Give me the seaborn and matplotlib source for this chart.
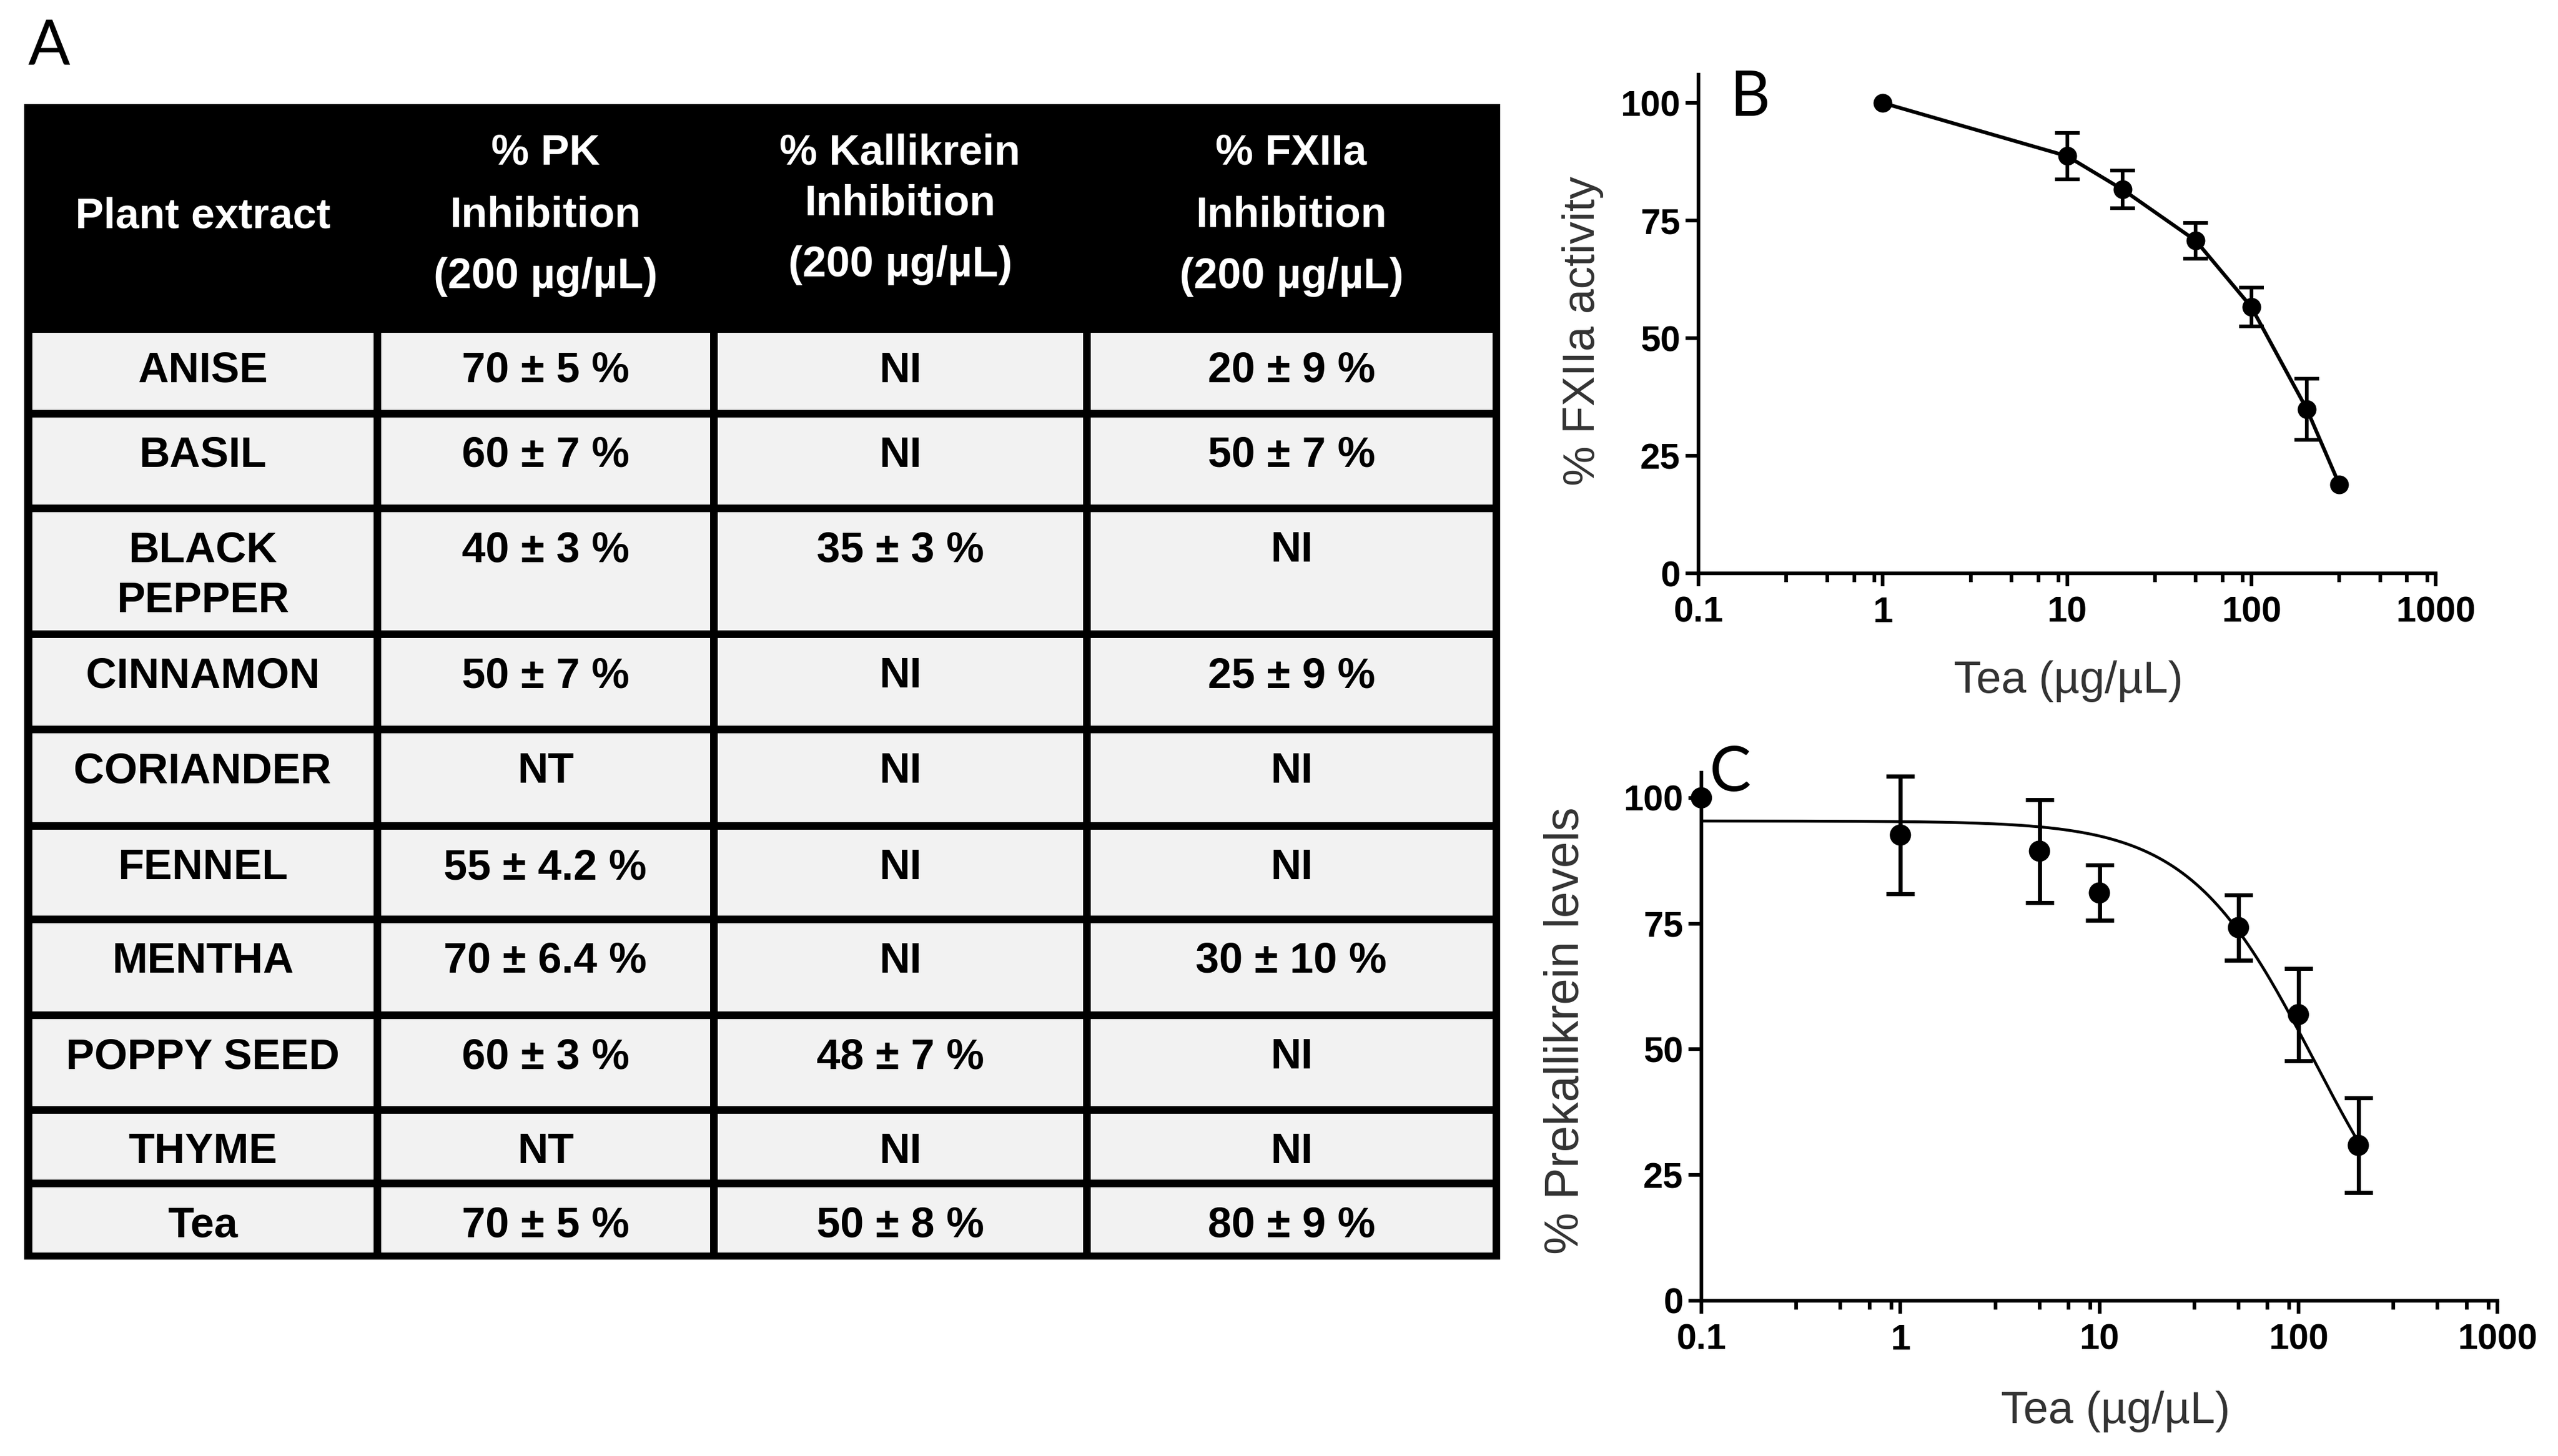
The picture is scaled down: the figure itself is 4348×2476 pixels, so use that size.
import numpy as np
import matplotlib
matplotlib.use('Agg')
import matplotlib.pyplot as plt
import matplotlib.patches as mpatches
from matplotlib import ticker
import seaborn as sns

# ---- table A data ----
plants = ['ANISE', 'BASIL', 'BLACK\nPEPPER', 'CINNAMON', 'CORIANDER',
          'FENNEL', 'MENTHA', 'POPPY SEED', 'THYME', 'Tea']
pkInhib = ['70 ± 5 %', '60 ± 7 %', '40 ± 3 %', '50 ± 7 %', 'NT',
           '55 ± 4.2 %', '70 ± 6.4 %', '60 ± 3 %', 'NT', '70 ± 5 %']
kalInhib = ['NI', 'NI', '35 ± 3 %', 'NI', 'NI',
            'NI', 'NI', '48 ± 7 %', 'NI', '50 ± 8 %']
fxiiaInhib = ['20 ± 9 %', '50 ± 7 %', 'NI', '25 ± 9 %', 'NI',
              'NI', '30 ± 10 %', 'NI', 'NI', '80 ± 9 %']
headers = ['Plant extract',
           '% PK\nInhibition\n(200 µg/µL)',
           '% Kallikrein\nInhibition\n(200 µg/µL)',
           '% FXIIa\nInhibition\n(200 µg/µL)']

# ---- panel B data ----
teaB = [1, 10, 20, 50, 100, 200, 300]
fxiiaAct = [100, 88.7, 81.6, 70.7, 56.6, 34.9, 18.9]
fxiiaErr = [0, 4.9, 4.0, 3.8, 4.1, 6.5, 0]

# ---- panel C data ----
teaC = [0.1, 1, 5, 10, 50, 100, 200]
pkLevel = [100, 92.6, 89.4, 81.1, 74.2, 56.9, 30.9]
pkErr = [0, 11.7, 10.2, 5.5, 6.5, 9.2, 9.4]

# four parameter logistic fit drawn in panel C (parameters)
fitTop, fitBottom, fitLogEC50, fitHill = 95.4, 0.0, 2.08, 1.38

sns.set_theme(style='ticks')
plt.rcParams['font.family'] = ['Liberation Sans', 'DejaVu Sans']

W, H = 4348, 2476
fig = plt.figure(figsize=(W/100, H/100), dpi=100)
fig.patch.set_facecolor('white')

# ---------------- table ----------------
tab = fig.add_axes([0, 0, 1, 1])
tab.set_xlim(0, W)
tab.set_ylim(H, 0)
tab.axis('off')

colEdges = [48, 641, 1213, 1847, 2543]
rowEdges = [559, 703, 864, 1078, 1240, 1404, 1563, 1726, 1887, 2012, 2136]
tableLeft, tableRight, tableTop, tableBottom = 41, 2550, 177, 2142
lineW = 13
headBase = [[387], [280, 386, 490], [280, 366, 470], [280, 386, 490]]

tab.add_patch(mpatches.Rectangle((tableLeft, tableTop), tableRight-tableLeft,
              tableBottom-tableTop, facecolor='black', edgecolor='none'))
columns = [plants, pkInhib, kalInhib, fxiiaInhib]
for i in range(4):
	cx = (colEdges[i] + colEdges[i+1]) / 2.0
	for k, line in enumerate(headers[i].split('\n')):
		tab.text(cx, headBase[i][k], line, color='white', fontsize=52, fontweight='bold',
		         ha='center', va='baseline')
	for j in range(len(plants)):
		x0 = colEdges[i] + lineW/2.0
		y0 = rowEdges[j] + lineW/2.0
		tab.add_patch(mpatches.Rectangle((x0, y0), colEdges[i+1]-colEdges[i]-lineW,
		              rowEdges[j+1]-rowEdges[j]-lineW, facecolor='#f2f2f2', edgecolor='none'))
		for k, line in enumerate(columns[i][j].split('\n')):
			tab.text(cx, rowEdges[j] + 91 + 86*k, line, color='black', fontsize=52,
			         fontweight='bold', ha='center', va='baseline')

# ---------------- plots ----------------
def styleAxis(ax, ytop):
	ax.set_xscale('log')
	ax.set_xlim(0.1, 1000)
	ax.set_ylim(0, ytop)
	ax.set_xticks([0.1, 1, 10, 100, 1000])
	ax.set_xticklabels(['0.1', '1', '10', '100', '1000'])
	ax.xaxis.set_minor_locator(ticker.LogLocator(base=10, subs=(3, 5, 7, 9)))
	ax.xaxis.set_minor_formatter(ticker.NullFormatter())
	ax.set_yticks([0, 25, 50, 75, 100])
	ax.set_yticklabels(['0', '25', '50', '75', '100'])
	sns.despine(ax=ax)
	for s in ['left', 'bottom']:
		ax.spines[s].set_linewidth(4.5)
		ax.spines[s].set_color('black')
	ax.tick_params(which='major', length=16, width=4.5, color='black', labelsize=44,
	               labelcolor='black')
	ax.tick_params(axis='x', which='major', pad=12)
	ax.tick_params(axis='y', which='major', pad=6)
	ax.tick_params(which='minor', length=11, width=4.5, color='black')
	for lab in ax.get_xticklabels() + ax.get_yticklabels():
		lab.set_fontweight('bold')
	ax.set_facecolor('white')

axB = fig.add_axes([2887/W, 1-975/H, (4140-2887)/W, 848/H])
sns.lineplot(x=teaB, y=fxiiaAct, ax=axB, color='black', linewidth=4.5, marker='o',
             markersize=23, markeredgewidth=0, clip_on=False, zorder=3)
bMask = np.array(fxiiaErr) > 0
axB.errorbar(np.array(teaB)[bMask], np.array(fxiiaAct)[bMask], yerr=np.array(fxiiaErr)[bMask],
             fmt='none', ecolor='black', elinewidth=4.5, capsize=15, capthick=4.5, zorder=2)
styleAxis(axB, 106)
axB.set_xlabel('Tea (µg/µL)', fontsize=55, color='#333333')
axB.set_ylabel('% FXIIa activity', fontsize=55, color='#333333')
axB.xaxis.set_label_coords(0.502, -0.239)
axB.xaxis.label.set_va('baseline')
axB.yaxis.set_label_coords(-0.157, 0.486)
axB.yaxis.label.set_va('center')

axC = fig.add_axes([2892/W, 1-2212/H, (4245-2892)/W, 898/H])
curveX = np.logspace(-1, np.log10(teaC[-1]), 300)
curveY = fitBottom + (fitTop-fitBottom) / (1 + 10**((np.log10(curveX) - fitLogEC50)*fitHill))
sns.lineplot(x=curveX, y=curveY, ax=axC, color='black', linewidth=3.5, zorder=2)
sns.scatterplot(x=teaC, y=pkLevel, ax=axC, s=26**2, color='black', edgecolor='none',
                clip_on=False, zorder=4)
cMask = np.array(pkErr) > 0
axC.errorbar(np.array(teaC)[cMask], np.array(pkLevel)[cMask], yerr=np.array(pkErr)[cMask],
             fmt='none', ecolor='black', elinewidth=5, capsize=17, capthick=5, zorder=3)
styleAxis(axC, 105)
axC.set_xlabel('Tea (µg/µL)', fontsize=55, color='#333333')
axC.set_ylabel('% Prekallikrein levels', fontsize=58, color='#333333')
axC.xaxis.set_label_coords(0.520, -0.2316)
axC.xaxis.label.set_va('baseline')
axC.yaxis.set_label_coords(-0.170, 0.511)
axC.yaxis.label.set_va('center')

# panel letters
for letter, px, py in [('A', 48, 110), ('B', 2940, 197), ('C', 2906, 1345)]:
	fig.text(px/W, 1-py/H, letter, fontsize=76, family=['Lato', 'DejaVu Sans'],
	         color='black', ha='left', va='baseline')

fig.savefig('out.png', dpi=100, facecolor='white')
